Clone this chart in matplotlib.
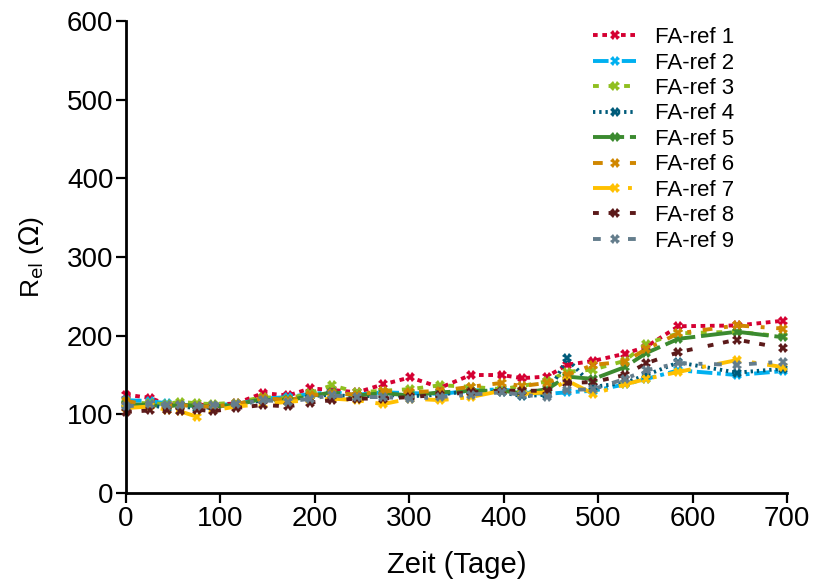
import matplotlib
matplotlib.use("Agg")
import matplotlib.pyplot as plt

plt.rcParams['font.family'] = ['Liberation Sans', 'DejaVu Sans']

days = [0, 25, 43, 57, 75, 92, 117, 145, 172, 195, 218, 245, 272, 301, 333,
        365, 398, 419, 446, 467, 495, 528, 551, 585, 647, 696]

ref1 = [125, 121, 113, 112, 112, 112, 114, 127, 124, 133, 131, 128, 138, 147, 134,
        150, 150, 146, 148, 163, 168, 177, 186, 212, 213, 219]
ref2 = [118, 117, 114, 113, 110, 112, 113, 120, 122, 126, 128, 125, 128, 127, 126,
        130, 132, 128, 126, 128, 130, 138, 145, 156, 150, 155]
ref3 = [115, 114, 113, 116, 114, 113, 115, 122, 120, 127, 137, 128, 130, 132, 137,
        135, 132, 136, 142, 154, 157, 168, 190, 203, 205, 199]
ref4 = [112, 112, 108, 110, 108, 109, 112, 118, 118, 123, 125, 122, 125, 123, 125,
        130, 128, 123, 125, 171, 135, 140, 150, 166, 153, 158]
ref5 = [113, 112, 110, 112, 111, 110, 112, 120, 118, 123, 128, 124, 127, 124, 128,
        130, 130, 127, 132, 148, 145, 160, 178, 196, 205, 198]
ref6 = [117, 112, 110, 112, 110, 110, 113, 121, 118, 124, 127, 125, 130, 128, 130,
        135, 140, 136, 140, 150, 163, 167, 183, 203, 213, 209]
ref7 = [108, 110, 106, 104, 97, 105, 110, 113, 116, 118, 120, 118, 113, 120, 118,
        122, 130, 126, 128, 143, 126, 138, 145, 154, 169, 160]
ref8 = [103, 105, 106, 104, 106, 104, 108, 112, 110, 115, 118, 120, 120, 122, 125,
        128, 130, 130, 130, 140, 141, 150, 165, 179, 195, 184]
ref9 = [110, 113, 112, 112, 110, 112, 113, 118, 116, 120, 124, 122, 122, 120, 122,
        125, 128, 125, 122, 131, 132, 145, 156, 165, 163, 167]

labels = ["FA-ref 1", "FA-ref 2", "FA-ref 3", "FA-ref 4", "FA-ref 5",
          "FA-ref 6", "FA-ref 7", "FA-ref 8", "FA-ref 9"]
series = [ref1, ref2, ref3, ref4, ref5, ref6, ref7, ref8, ref9]
colors = ["#d50032", "#00b0f0", "#8fbf1f", "#005b7a", "#3b8a2f",
          "#d08700", "#ffc000", "#5c1a1a", "#647d8c"]
styles = [(0, (1.2, 1.2)), (0, (4, 1.2, 1, 1.2)), (0, (1.5, 2.5)), (0, (0.6, 1)),
          (0, (8, 1.5)), (0, (2.5, 3, 1, 3)), (0, (6, 3, 1, 3)),
          (0, (1.5, 2.5, 1.5, 4)), (0, (2, 3, 1, 3))]

fig = plt.figure(figsize=(8.16, 5.79), dpi=100)
ax = fig.add_axes([0.1544, 0.1485, 0.8101, 0.8152])

for y, lab, c, ls in zip(series, labels, colors, styles):
    ax.plot(days, y, color=c, linestyle=ls, linewidth=2.8, marker="X",
            markersize=7, markeredgewidth=0, label=lab, clip_on=False)

ax.set_xlim(0, 700)
ax.set_ylim(0, 600)
ax.set_xticks(range(0, 701, 100))
ax.set_yticks(range(0, 601, 100))
for s in ["top", "right"]:
    ax.spines[s].set_visible(False)
for s in ["left", "bottom"]:
    ax.spines[s].set_linewidth(2)
ax.tick_params(direction="out", length=7, width=1.6, labelsize=20, pad=2)
ax.set_xlabel("Zeit (Tage)", fontsize=21, labelpad=14)
ax.set_ylabel(r"R$_{\mathrm{el}}$ ($\Omega$)", fontsize=19, labelpad=15)

leg = ax.legend(loc="upper left", bbox_to_anchor=(0.693, 1.006), frameon=False,
                fontsize=16, handlelength=1.95, labelspacing=0.2,
                handletextpad=0.85, borderaxespad=0.0)

fig.savefig("out.png", dpi=100)
